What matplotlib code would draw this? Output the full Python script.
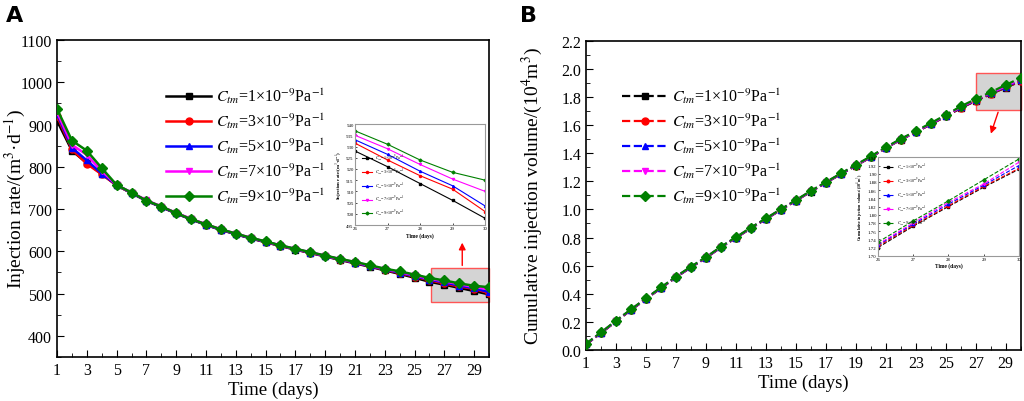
import matplotlib
matplotlib.use("Agg")
from matplotlib import pyplot as plt
from matplotlib.patches import Rectangle
from matplotlib.ticker import MultipleLocator, FormatStrFormatter
import numpy as np

plt.rcParams['font.family'] = ['Liberation Serif', 'DejaVu Serif']
plt.rcParams['mathtext.fontset'] = 'stix'

# days
days = np.arange(1, 31)

# injection rate (m3/d), panel A
rate_1 = [909, 838, 809, 783, 756, 737.5, 719.5, 704.5, 689.5, 675.5, 662.5, 650.5, 640.5, 630.5, 621.5,
          612.5, 604, 596, 588, 579.5, 571.5, 563.5, 555, 546.5, 537.5, 528, 521, 513.5, 506, 498]
rate_3 = [920, 841, 807, 782, 756, 738, 720, 705, 690, 676, 663, 651, 641, 631, 622,
          613, 604.5, 596.5, 588.5, 580.5, 572.5, 564.5, 556, 548.5, 540, 531.5, 524, 517, 511, 501]
rate_5 = [925, 845, 815, 784, 757, 738, 720, 705, 690, 676, 663, 651, 641, 631, 622.5,
          613.5, 605, 597, 589, 581, 573, 565, 557, 549.5, 541.5, 533, 526.5, 519, 512.5, 503.5]
rate_7 = [929, 852, 828, 790, 757, 739, 721, 706, 691, 677, 664, 652, 642, 632, 623,
          614, 605.5, 597.5, 589.5, 581.5, 574, 566, 558, 551, 543, 535, 529, 522, 515.5, 510]
rate_9 = [937, 862, 838, 797, 757, 739, 720, 706, 690.5, 676, 664, 652, 642, 632, 623.5,
          614, 606, 598, 590, 582, 575, 567, 559, 552.5, 545, 537, 531, 524, 518.5, 515]

# cumulative injection volume (10^4 m3), panel B
vol_1 = [0.040, 0.120, 0.204, 0.284, 0.363, 0.440, 0.517, 0.588, 0.655, 0.730, 0.797, 0.866, 0.931, 0.997, 1.061,
         1.127, 1.189, 1.251, 1.311, 1.371, 1.436, 1.496, 1.549, 1.605, 1.661, 1.720, 1.772, 1.820, 1.867, 1.911]
vol_3 = [0.041, 0.121, 0.205, 0.285, 0.364, 0.441, 0.518, 0.589, 0.656, 0.731, 0.798, 0.867, 0.932, 0.998, 1.062,
         1.128, 1.190, 1.252, 1.312, 1.372, 1.437, 1.497, 1.550, 1.606, 1.663, 1.723, 1.774, 1.822, 1.869, 1.913]
vol_5 = [0.042, 0.122, 0.206, 0.286, 0.365, 0.442, 0.519, 0.590, 0.657, 0.732, 0.799, 0.868, 0.933, 0.999, 1.063,
         1.129, 1.191, 1.253, 1.313, 1.374, 1.438, 1.498, 1.552, 1.608, 1.666, 1.726, 1.777, 1.826, 1.872, 1.920]
vol_7 = [0.043, 0.123, 0.207, 0.287, 0.366, 0.443, 0.520, 0.591, 0.658, 0.733, 0.800, 0.869, 0.934, 1.000, 1.064,
         1.130, 1.192, 1.254, 1.314, 1.375, 1.439, 1.499, 1.553, 1.610, 1.668, 1.728, 1.780, 1.830, 1.875, 1.928]
vol_9 = [0.045, 0.125, 0.209, 0.289, 0.368, 0.445, 0.522, 0.593, 0.660, 0.735, 0.802, 0.871, 0.936, 1.002, 1.066,
         1.132, 1.194, 1.256, 1.317, 1.378, 1.442, 1.502, 1.557, 1.614, 1.672, 1.733, 1.785, 1.834, 1.885, 1.936]

ctm = [1, 3, 5, 7, 9]
labels = [r'$C_{tm}$=%d×10$^{\mathrm{-9}}$Pa$^{\mathrm{-1}}$' % c for c in ctm]
colors = ['black', 'red', 'blue', 'magenta', 'green']
markers = ['s', 'o', '^', 'v', 'D']
rates = [rate_1, rate_3, rate_5, rate_7, rate_9]
vols = [vol_1, vol_3, vol_5, vol_7, vol_9]

fig = plt.figure(figsize=(10.24, 4.02), dpi=100)


def style_axes(ax, fs=11.5):
    ax.tick_params(which='both', direction='in', top=False, right=False, labelsize=fs)
    ax.tick_params(which='major', length=5)
    ax.tick_params(which='minor', length=3)
    for s in ax.spines.values():
        s.set_linewidth(1.2)


# ---- panel A ----
axA = fig.add_axes([0.0557, 0.1095, 0.4219, 0.7886])
for r, c, m, l in zip(rates, colors, markers, labels):
    axA.plot(days, r, color=c, marker=m, markersize=5, lw=1.8, label=l, zorder=3)
axA.set_xlim(1, 30)
axA.set_ylim(350, 1100)
axA.xaxis.set_minor_locator(MultipleLocator(1))
axA.set_xticks(np.arange(1, 30, 2))
axA.yaxis.set_minor_locator(MultipleLocator(50))
axA.set_yticks(np.arange(400, 1101, 100))
style_axes(axA)
axA.set_xlabel('Time (days)', fontsize=13.5, labelpad=2)
axA.set_ylabel(r'Injection rate/(m$^3$·d$^{\mathrm{-1}}$)', fontsize=14)
axA.yaxis.set_label_coords(-0.068, 0.5)
axA.legend(loc='upper left', bbox_to_anchor=(0.22, 0.90), frameon=False, fontsize=11.5,
           handlelength=2.8, labelspacing=0.35, handletextpad=0.3)
axA.add_patch(Rectangle((26.1, 479), 3.9, 81, facecolor='#d4d4d4', edgecolor='#ff5555',
                        lw=1, zorder=1, clip_on=False))
axA.annotate('', xy=(28.2, 627), xytext=(28.2, 560),
             arrowprops=dict(arrowstyle='-|>', color='red', lw=1, mutation_scale=10))
fig.text(0.006, 0.945, 'A', fontsize=16, fontweight='bold', family='DejaVu Sans')

insA = fig.add_axes([0.3467, 0.4378, 0.127, 0.251])
for r, c, m, l in zip(rates, colors, markers, labels):
    insA.plot(days[25:], r[25:], color=c, marker=m, markersize=1.5, lw=0.8, label=l)
insA.set_xlim(26, 30)
insA.set_ylim(495, 540)
insA.set_xticks([26, 27, 28, 29, 30])
insA.set_yticks(np.arange(495, 541, 5))
insA.tick_params(direction='in', labelsize=3.5, length=1.5, width=0.5, pad=1)
for s in insA.spines.values():
    s.set_linewidth(0.8)
    s.set_color('#999999')
insA.set_xlabel('Time (days)', fontsize=4, fontweight='bold', labelpad=1)
insA.set_ylabel(r'Injection rate/(m$^3$·d$^{\mathrm{-1}}$)', fontsize=3.5, fontweight='bold', labelpad=1)
insA.legend(loc='lower left', frameon=False, fontsize=3.0, handlelength=2.5, labelspacing=0.9,
            borderaxespad=1.2)

# ---- panel B ----
axB = fig.add_axes([0.5723, 0.1269, 0.4245, 0.7694])
for v, c, m, l in zip(vols, colors, markers, labels):
    axB.plot(days, v, color=c, marker=m, markersize=5, lw=1.6, ls='--', label=l, zorder=3)
axB.set_xlim(1, 30)
axB.set_ylim(0, 2.2)
axB.xaxis.set_minor_locator(MultipleLocator(1))
axB.set_xticks(np.arange(1, 30, 2))
axB.yaxis.set_minor_locator(MultipleLocator(0.1))
axB.set_yticks(np.arange(0, 2.21, 0.2))
axB.yaxis.set_major_formatter(FormatStrFormatter('%.1f'))
style_axes(axB)
axB.set_xlabel('Time (days)', fontsize=13.5, labelpad=2)
axB.set_ylabel(r'Cumulative injection volume/(10$^4$m$^3$)', fontsize=14)
axB.yaxis.set_label_coords(-0.095, 0.5)
axB.legend(loc='upper left', bbox_to_anchor=(0.05, 0.90), frameon=False, fontsize=11.5,
           handlelength=2.8, labelspacing=0.35, handletextpad=0.3)
axB.add_patch(Rectangle((27.0, 1.71), 3.0, 0.26, facecolor='#d4d4d4', edgecolor='#ff5555',
                        lw=1, zorder=1, clip_on=False))
axB.annotate('', xy=(27.95, 1.52), xytext=(28.55, 1.71),
             arrowprops=dict(arrowstyle='-|>', color='red', lw=1, mutation_scale=10))
fig.text(0.508, 0.945, 'B', fontsize=16, fontweight='bold', family='DejaVu Sans')

insB = fig.add_axes([0.8574, 0.3614, 0.1377, 0.2448])
for v, c, m, l in zip(vols, colors, markers, labels):
    insB.plot(days[25:], v[25:], color=c, marker=m, markersize=1.8, lw=0.8, ls='--', label=l)
insB.set_xlim(26, 30)
insB.set_ylim(1.70, 1.94)
insB.set_xticks([26, 27, 28, 29, 30])
insB.set_yticks(np.arange(1.70, 1.941, 0.02))
insB.yaxis.set_major_formatter(FormatStrFormatter('%.2f'))
insB.tick_params(direction='in', labelsize=3.5, length=1.5, width=0.5, pad=1)
for s in insB.spines.values():
    s.set_linewidth(0.8)
    s.set_color('#999999')
insB.set_xlabel('Time (days)', fontsize=4, fontweight='bold', labelpad=1)
insB.set_ylabel(r'Cumulative injection volume/(10$^4$m$^3$)', fontsize=3.0, fontweight='bold', labelpad=1)
insB.legend(loc='upper left', frameon=False, fontsize=3.0, handlelength=2.5, labelspacing=0.9,
            borderaxespad=0.8)

fig.savefig('out.png', dpi=100)
